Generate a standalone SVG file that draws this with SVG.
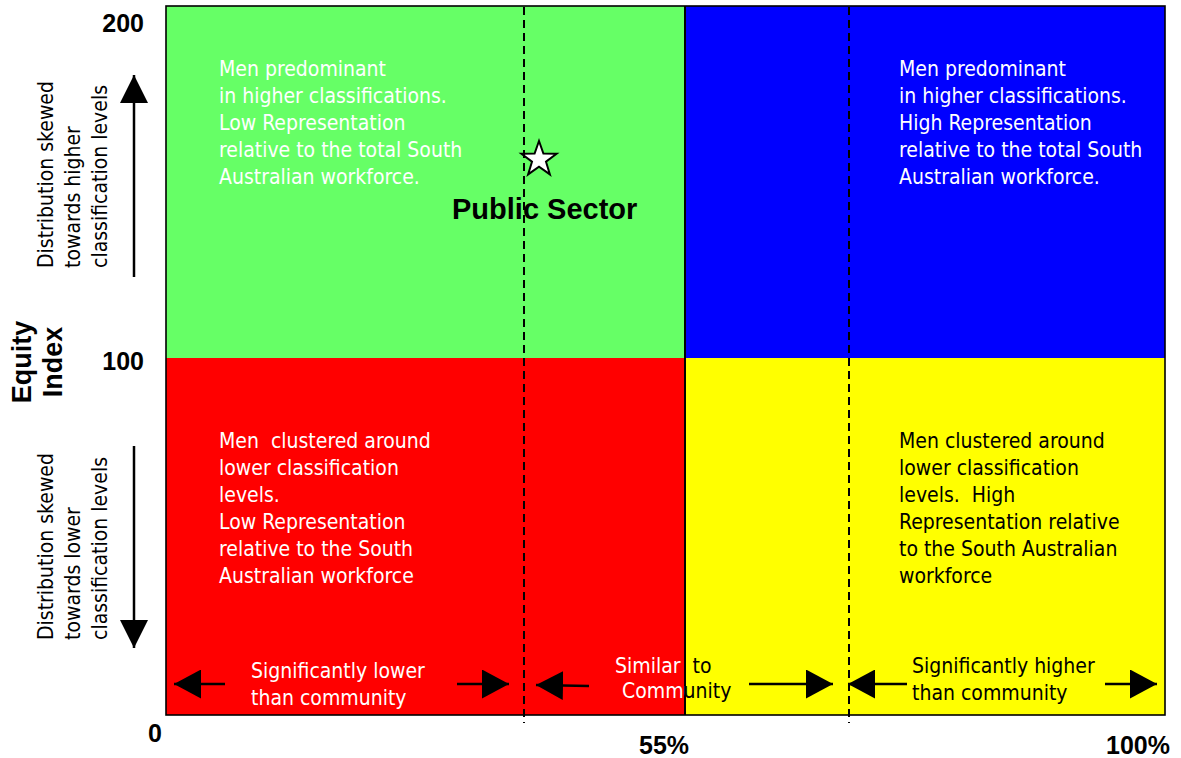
<svg xmlns="http://www.w3.org/2000/svg" width="1181" height="758" viewBox="0 0 1181 758">
  <style>
    .body { font-family: "DejaVu Sans Condensed", "DejaVu Sans", sans-serif; font-stretch: condensed; font-size: 21px; }
    .w { fill: #ffffff; }
    .k { fill: #000000; }
    .num { font-family: "Liberation Sans", Arial, sans-serif; font-weight: bold; font-size: 25px; fill: #000; }
    .axis { font-family: "Liberation Sans", Arial, sans-serif; font-weight: bold; font-size: 27px; fill: #000; }
    .title { font-family: "Liberation Sans", Arial, sans-serif; font-weight: bold; font-size: 29px; fill: #000; }
    .dash { stroke: #000; stroke-width: 2; stroke-dasharray: 8 5; fill: none; }
    .arrow { stroke: #000; stroke-width: 2.5; fill: none; marker-end: url(#head); }
    .varrow { stroke: #000; stroke-width: 2.5; fill: none; marker-end: url(#vhead); }
  </style>
  <defs>
    <marker id="head" viewBox="0 0 27 29" refX="27" refY="14.5" markerWidth="27" markerHeight="29" markerUnits="userSpaceOnUse" orient="auto">
      <polygon points="0,0 27,14.5 0,29" fill="#000"/>
    </marker>
    <marker id="vhead" viewBox="0 0 28 28" refX="28" refY="14" markerWidth="28" markerHeight="28" markerUnits="userSpaceOnUse" orient="auto">
      <polygon points="0,0 28,14 0,28" fill="#000"/>
    </marker>
    <clipPath id="leftHalf"><rect x="0" y="0" width="685" height="758"/></clipPath>
    <clipPath id="rightHalf"><rect x="685" y="0" width="496" height="758"/></clipPath>
  </defs>

  <rect width="1181" height="758" fill="#ffffff"/>

  <!-- quadrants -->
  <g id="q-top-left">
    <rect x="166" y="6" width="519" height="352" fill="#66ff66"/>
    <text class="body w" x="219" y="76">Men predominant</text>
    <text class="body w" x="219" y="103">in higher classifications.</text>
    <text class="body w" x="219" y="130">Low Representation</text>
    <text class="body w" x="219" y="157">relative to the total South</text>
    <text class="body w" x="219" y="184">Australian workforce.</text>
  </g>
  <g id="q-top-right">
    <rect x="685" y="6" width="480" height="352" fill="#0000ff"/>
    <text class="body w" x="899" y="76">Men predominant</text>
    <text class="body w" x="899" y="103">in higher classifications.</text>
    <text class="body w" x="899" y="130">High Representation</text>
    <text class="body w" x="899" y="157">relative to the total South</text>
    <text class="body w" x="899" y="184">Australian workforce.</text>
  </g>
  <g id="q-bottom-left">
    <rect x="166" y="358" width="519" height="357" fill="#ff0000"/>
    <text class="body w" x="219" y="448">Men&#160; clustered around</text>
    <text class="body w" x="219" y="475">lower classification</text>
    <text class="body w" x="219" y="502">levels.</text>
    <text class="body w" x="219" y="529">Low Representation</text>
    <text class="body w" x="219" y="556">relative to the South</text>
    <text class="body w" x="219" y="583">Australian workforce</text>
  </g>
  <g id="q-bottom-right">
    <rect x="685" y="358" width="480" height="357" fill="#ffff00"/>
    <text class="body k" x="899" y="448">Men clustered around</text>
    <text class="body k" x="899" y="475">lower classification</text>
    <text class="body k" x="899" y="502">levels.&#160; High</text>
    <text class="body k" x="899" y="529">Representation relative</text>
    <text class="body k" x="899" y="556">to the South Australian</text>
    <text class="body k" x="899" y="583">workforce</text>
  </g>

  <!-- frame and divider -->
  <g id="frame">
    <rect x="166" y="6" width="999" height="709" fill="none" stroke="#000" stroke-width="1.6"/>
    <line x1="685" y1="6" x2="685" y2="715" stroke="#000" stroke-width="2"/>
  </g>

  <!-- band labels along the bottom -->
  <g id="band-lower">
    <text class="body w" x="251" y="678">Significantly lower</text>
    <text class="body w" x="251" y="705">than community</text>
  </g>
  <g id="band-similar">
    <g clip-path="url(#leftHalf)">
      <text class="body w" x="615" y="673">Similar&#160; to</text>
      <text class="body w" x="622" y="698">Community</text>
    </g>
    <g clip-path="url(#rightHalf)">
      <text class="body k" x="615" y="673">Similar&#160; to</text>
      <text class="body k" x="622" y="698">Community</text>
    </g>
  </g>
  <g id="band-higher">
    <text class="body k" x="912" y="673">Significantly higher</text>
    <text class="body k" x="912" y="700">than community</text>
  </g>

  <!-- public sector marker -->
  <g id="public-sector">
    <polygon points="539,141 543.4,153.5 556.6,153.7 546,161.7 549.9,174.4 539,166.8 528.1,174.4 532,161.7 521.4,153.7 534.6,153.5" fill="#ffffff" stroke="#000" stroke-width="2" stroke-linejoin="miter"/>
    <text class="title" x="452" y="219">Public Sector</text>
  </g>

  <!-- y-axis captions -->
  <g id="y-upper-caption">
    <text class="body k" transform="translate(53,268) rotate(-90)">Distribution skewed</text>
    <text class="body k" transform="translate(80,268) rotate(-90)">towards higher</text>
    <text class="body k" transform="translate(107,268) rotate(-90)">classification levels</text>
  </g>
  <g id="y-lower-caption">
    <text class="body k" transform="translate(53,640) rotate(-90)">Distribution skewed</text>
    <text class="body k" transform="translate(80,640) rotate(-90)">towards lower</text>
    <text class="body k" transform="translate(107,640) rotate(-90)">classification levels</text>
  </g>
  <g id="y-axis-title">
    <text class="axis" text-anchor="middle" transform="translate(31,362) rotate(-90)">Equity</text>
    <text class="axis" text-anchor="middle" transform="translate(62,362) rotate(-90)">Index</text>
  </g>

  <!-- tick values -->
  <g id="ticks">
    <text class="num" text-anchor="end" x="144" y="32">200</text>
    <text class="num" text-anchor="end" x="144" y="370">100</text>
    <text class="num" x="148" y="742">0</text>
    <text class="num" x="639" y="754">55%</text>
    <text class="num" x="1106" y="754">100%</text>
  </g>

  <!-- connectors: reference lines and direction arrows -->
  <g id="connectors">
    <line class="dash" x1="524" y1="7" x2="524" y2="723"/>
    <line class="dash" x1="849" y1="7" x2="849" y2="723"/>
    <line class="arrow" x1="225" y1="684" x2="174" y2="684"/>
    <line class="arrow" x1="457" y1="684" x2="509" y2="684"/>
    <line class="arrow" x1="589" y1="686" x2="536" y2="685"/>
    <line class="arrow" x1="749" y1="684" x2="833" y2="684"/>
    <line class="arrow" x1="907" y1="684" x2="848" y2="684"/>
    <line class="arrow" x1="1105" y1="684" x2="1157" y2="684"/>
    <line class="varrow" x1="134" y1="277" x2="134" y2="75"/>
    <line class="varrow" x1="134" y1="446" x2="134" y2="648"/>
  </g>
</svg>
